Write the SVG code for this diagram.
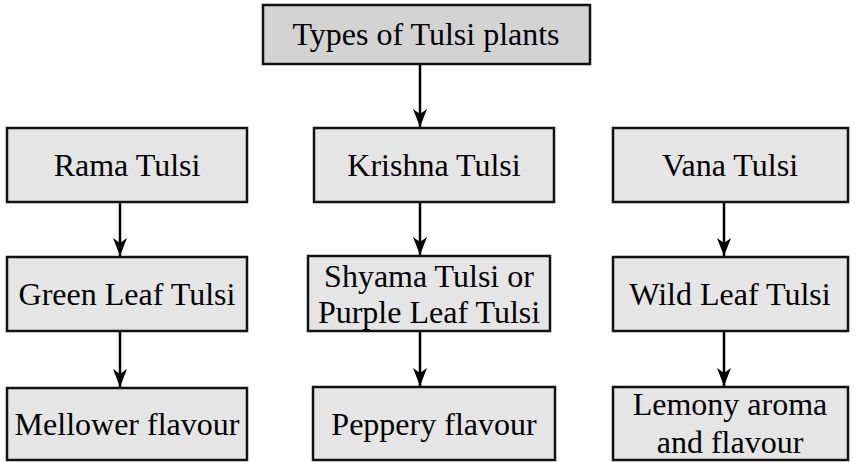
<svg xmlns="http://www.w3.org/2000/svg" width="855" height="462" viewBox="0 0 855 462">
<style>
.box{fill:#e5e5e5;stroke:#111;stroke-width:2.5}
.top{fill:#d3d3d3}
text{font-family:'Liberation Serif','Times New Roman',Times,'DejaVu Serif',serif;font-size:32px;fill:#000;text-anchor:middle}
.conn{stroke:#000;stroke-width:2.5;fill:none}
</style>
<defs>
<marker id="ah" viewBox="0 0 18 14" refX="18" refY="7" markerWidth="18" markerHeight="14" markerUnits="userSpaceOnUse" orient="auto">
<path d="M0,0 L18,7 L0,14 L5,7 Z" fill="#000"/>
</marker>
</defs>
<g id="connectors">
<line class="conn" x1="420" y1="64" x2="420" y2="127" marker-end="url(#ah)"/>
<line class="conn" x1="120" y1="202" x2="120" y2="256" marker-end="url(#ah)"/>
<line class="conn" x1="420" y1="202" x2="420" y2="255" marker-end="url(#ah)"/>
<line class="conn" x1="724" y1="202" x2="724" y2="256" marker-end="url(#ah)"/>
<line class="conn" x1="120" y1="331" x2="120" y2="387" marker-end="url(#ah)"/>
<line class="conn" x1="420" y1="331" x2="420" y2="386" marker-end="url(#ah)"/>
<line class="conn" x1="724" y1="331" x2="724" y2="386" marker-end="url(#ah)"/>
</g>
<g id="types">
<rect class="box top" x="263" y="5" width="327" height="59"/>
<text x="426" y="45">Types of Tulsi plants</text>
</g>
<g id="rama">
<rect class="box" x="7" y="128" width="240" height="74"/>
<text x="127" y="176">Rama Tulsi</text>
</g>
<g id="krishna">
<rect class="box" x="314" y="128" width="240" height="74"/>
<text x="434" y="176">Krishna Tulsi</text>
</g>
<g id="vana">
<rect class="box" x="613" y="128" width="235" height="74"/>
<text x="730" y="176">Vana Tulsi</text>
</g>
<g id="green">
<rect class="box" x="7" y="257" width="240" height="74"/>
<text x="127" y="305">Green Leaf Tulsi</text>
</g>
<g id="shyama">
<rect class="box" x="308" y="256" width="242" height="75"/>
<text x="429" y="287">Shyama Tulsi or</text>
<text x="429" y="323">Purple Leaf Tulsi</text>
</g>
<g id="wild">
<rect class="box" x="613" y="257" width="235" height="74"/>
<text x="730" y="305">Wild Leaf Tulsi</text>
</g>
<g id="mellower">
<rect class="box" x="7" y="388" width="240" height="72"/>
<text x="127" y="435">Mellower flavour</text>
</g>
<g id="peppery">
<rect class="box" x="313" y="387" width="242" height="73"/>
<text x="434" y="435">Peppery flavour</text>
</g>
<g id="lemony">
<rect class="box" x="613" y="387" width="235" height="73"/>
<text x="730" y="415">Lemony aroma</text>
<text x="730" y="453">and flavour</text>
</g>
</svg>
